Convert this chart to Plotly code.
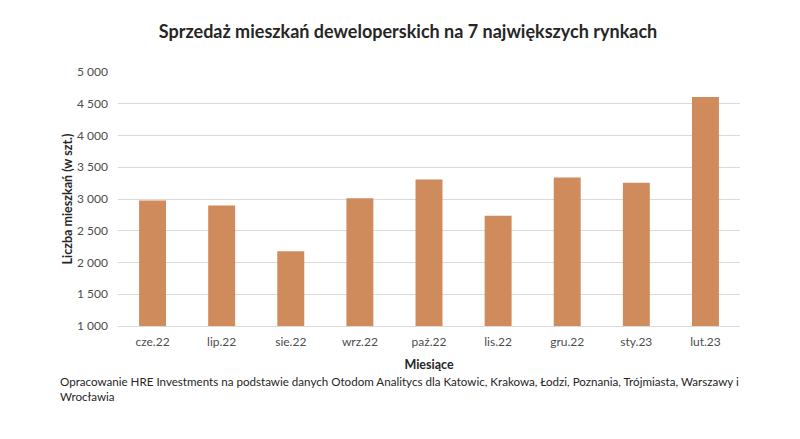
import plotly.graph_objects as go

months = ["cze.22", "lip.22", "sie.22", "wrz.22", "paź.22", "lis.22", "gru.22", "sty.23", "lut.23"]
sales = [2975, 2898, 2176, 3013, 3306, 2736, 3337, 3254, 4608]
y_ticks = [1000, 1500, 2000, 2500, 3000, 3500, 4000, 4500, 5000]

FONT = "Lato"
BAR = "#D08B5C"

fig = go.Figure(go.Bar(x=months, y=sales, marker=dict(color=BAR, line=dict(width=0)), width=0.39))

fig.update_layout(
    width=800, height=439,
    paper_bgcolor="white", plot_bgcolor="white",
    margin=dict(l=110, r=68, t=64, b=121, autoexpand=False),
    separators=", ",
    font=dict(family=FONT, color="#4D4D4D", size=12),
    title=dict(text="<b>Sprzedaż mieszkań deweloperskich na 7 największych rynkach</b>",
               x=0.5, xanchor="center", y=1 - 24 / 439, yanchor="middle",
               font=dict(family=FONT, size=18, color="#262626")),
    showlegend=False,
    bargap=0.61,
)
fig.update_yaxes(range=[1000, 5000], tickvals=y_ticks, tickformat=",d", automargin=False,
                 showgrid=True, gridcolor="#D9D9D9", gridwidth=1,
                 zeroline=False, showline=False, ticks="", ticklen=0,
                 ticklabelstandoff=9,
                 tickfont=dict(size=12, color="#4D4D4D"),
                 title=dict(text="<b>Liczba mieszkań (w szt.)</b>", standoff=1,
                            font=dict(size=12.5, color="#262626")))
fig.update_xaxes(showline=True, linecolor="#D9D9D9", linewidth=1, ticks="", automargin=False,
                 ticklabelstandoff=5,
                 tickfont=dict(size=12, color="#4D4D4D"),
                 title=dict(text="<b>Miesiące</b>", standoff=11,
                            font=dict(size=12.5, color="#262626")))

fig.add_annotation(text="Opracowanie HRE Investments na podstawie danych Otodom Analitycs dla Katowic, Krakowa, Łodzi, Poznania, Trójmiasta, Warszawy i<br>Wrocławia",
                   xref="paper", yref="paper", x=-60/622, y=-47/254,
                   xanchor="left", yanchor="top", align="left", showarrow=False,
                   font=dict(family=FONT, size=11.6, color="#262626"))

fig.write_html("out.html")
